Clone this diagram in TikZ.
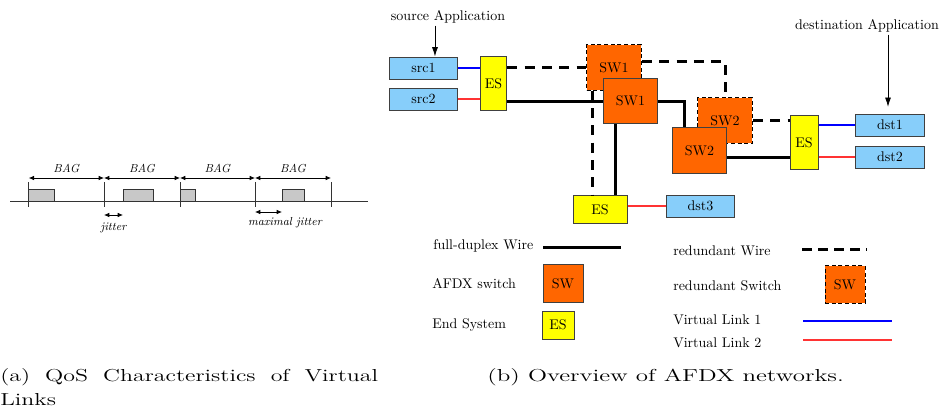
\documentclass[tikz,border=0pt]{standalone}
\usepackage{graphicx}
\usepackage{tikz}
\usetikzlibrary{arrows.meta}

\definecolor{appblue}{HTML}{87CEFA}
\definecolor{sworange}{HTML}{FF6600}
\definecolor{esyellow}{HTML}{FFFF00}
\definecolor{vlred}{HTML}{FF3333}
\definecolor{pktgray}{HTML}{C8C8C8}

\newcommand{\capstretch}[2][1.38]{\scalebox{#1}[1]{#2}}

\tikzset{
    txt/.style={inner sep=0pt, font=\fontsize{10.5}{12.6}\selectfont},
    bagtxt/.style={inner sep=0pt, font=\fontsize{8.7}{10}\selectfont\itshape},
    captxt/.style={inner sep=0pt, font=\fontsize{13}{15.6}\selectfont},
    box/.style={txt, draw=black!75, line width=0.75pt},
    appbox/.style={box, fill=appblue, minimum width=51.5pt, minimum height=16.5pt},
    esbox/.style={box, fill=esyellow},
    swbox/.style={box, fill=sworange, minimum width=41pt, minimum height=34pt},
    rswbox/.style={swbox, draw=black, dash pattern=on 3pt off 2pt},
    wire/.style={line width=2.25pt},
    rwire/.style={line width=2.25pt, dash pattern=on 7.5pt off 5.5pt},
    vlone/.style={draw=blue, line width=1.4pt},
    vltwo/.style={draw=vlred, line width=1.4pt},
    tl/.style={black!80, line width=0.6pt},
    dimarrow/.style={{Latex[length=4pt,width=3.5pt]}-{Latex[length=4pt,width=3.5pt]}, line width=0.6pt},
    apparrow/.style={-{Latex[length=7pt,width=4.5pt]}, line width=0.6pt, shorten <=2pt},
}

\begin{document}
\begin{tikzpicture}[x=0.75pt, y=-0.75pt]
    \useasboundingbox (0,0) rectangle (944,412);

    % (a) BAG and jitter
    \draw[tl] (10,201) -- (368,201);
    \foreach \x in {28.7,104,180,255,331}
        \draw[tl] (\x,182) -- (\x,207);
    \foreach \a/\b in {28.7/54.7,123/153,180/195,282/304}
        \draw[tl, fill=pktgray] (\a,189) rectangle (\b,201);
    \foreach \a/\b in {28.7/104,104/180,180/255,255/331}
        \draw[dimarrow] (\a,178) -- node[bagtxt, above=3.5pt] {BAG} (\b,178);
    \draw[dimarrow] (104,215) -- (123,215);
    \node[bagtxt] (jit) at (113.5,228) {jitter};
    \draw[dimarrow] (255,212) -- (282,212);
    \node[bagtxt] (maxjit) at (285,223) {maximal jitter};

    % (b) AFDX network
    \node[txt, anchor=base] (srcapp) at (448,20) {source Application};
    \node[txt, anchor=base] (dstapp) at (867,29) {destination Application};
    \node[appbox] (src1) at (423.5,68) {src1};
    \node[appbox] (src2) at (423.5,99) {src2};
    \node[esbox, minimum width=20pt, minimum height=40pt] (es1) at (493.5,83.5) {ES};
    \node[rswbox] (rsw1) at (614,67.5) {SW1};
    \node[swbox] (sw1) at (630.5,101) {SW1};
    \node[rswbox] (rsw2) at (725,120.5) {SW2};
    \node[swbox] (sw2) at (699.5,150.5) {SW2};
    \node[esbox, minimum width=21pt, minimum height=40pt] (es2) at (804,142.5) {ES};
    \node[appbox] (dst1) at (890,125) {dst1};
    \node[appbox] (dst2) at (890,157) {dst2};
    \node[esbox, minimum width=40.5pt, minimum height=20.5pt] (es3) at (600,209.5) {ES};
    \node[appbox] (dst3) at (700.5,206) {dst3};

    \draw[apparrow] ([xshift=8.6pt]src1.north |- srcapp.south) -- ([xshift=8.6pt]src1.north);
    \draw[apparrow, shorten >=5pt] ([xshift=-1.5pt]dst1.north |- dstapp.south) -- ([xshift=-1.5pt]dst1.north);

    \draw[vlone] (src1.east) -- (src1.east -| es1.west);
    \draw[vltwo] (src2.east) -- (src2.east -| es1.west);
    \draw[rwire] (rsw1.west -| es1.east) -- (rsw1.west);
    \draw[wire] (sw1.west -| es1.east) -- (sw1.west);
    \draw[rwire] (rsw1.12) -| (rsw2.north);
    \draw[wire] (sw1.east) -| ([xshift=-11.6pt]sw2.north);
    \draw[rwire] (rsw2.east) -- (rsw2.east -| es2.west);
    \draw[wire] (sw2.-15) -- (sw2.-15 -| es2.west);
    \draw[vlone] (es2.east |- dst1.west) -- (dst1.west);
    \draw[vltwo] (es2.east |- dst2.west) -- (dst2.west);
    \draw[rwire] ([xshift=4.5pt]rsw1.south west) -- ([xshift=4.5pt]rsw1.south west |- es3.north);
    \draw[wire] ([xshift=-10.9pt]sw1.south) -- ([xshift=-10.9pt]sw1.south |- es3.north);
    \draw[vltwo] (es3.east |- dst3.west) -- (dst3.west);

    % legend
    \node[txt, anchor=base west] (lwire) at (433,249) {full-duplex Wire};
    \node[txt, anchor=base west] (lsw) at (432,288) {AFDX switch};
    \node[txt, anchor=base west] (les) at (432,328) {End System};
    \node[txt, anchor=base west] (lrwire) at (673,255) {redundant Wire};
    \node[txt, anchor=base west] (lrsw) at (673,290) {redundant Switch};
    \node[txt, anchor=base west] (lvl1) at (673,324) {Virtual Link 1};
    \node[txt, anchor=base west] (lvl2) at (673,347) {Virtual Link 2};
    \node[swbox, minimum width=30pt, minimum height=28pt] (lswbox) at (563,283.5) {SW};
    \node[esbox, minimum width=24pt, minimum height=21pt] (lesbox) at (558,325) {ES};
    \node[rswbox, minimum width=30pt, minimum height=28pt] (lrswbox) at (845,284.5) {SW};
    \coordinate (lwa) at (543,247);
    \coordinate (lwb) at (621,247);
    \coordinate (lrwa) at (802,249);
    \coordinate (lrwb) at (867,249);
    \coordinate (lvla) at (803,321);
    \coordinate (lvlb) at (892,321);
    \coordinate (lvlc) at (803,340);
    \coordinate (lvld) at (892,340);
    \draw[wire] (lwa) -- (lwb);
    \draw[rwire, dash pattern=on 7.5pt off 4.5pt] (lrwa) -- (lrwb);
    \draw[vlone] (lvla) -- (lvlb);
    \draw[vltwo] (lvlc) -- (lvld);

    % captions
    \node[captxt, anchor=base west] (capa) at (0,381.7) {\capstretch{\makebox[205.4pt][s]{(a) QoS Characteristics of Virtual}}};
    \node[captxt, anchor=base west] (capa2) at (0,405) {\capstretch{Links}};
    \node[captxt, anchor=base west] (capb) at (487,381) {\capstretch[1.44]{(b) Overview of AFDX networks.}};
\end{tikzpicture}
\end{document}
